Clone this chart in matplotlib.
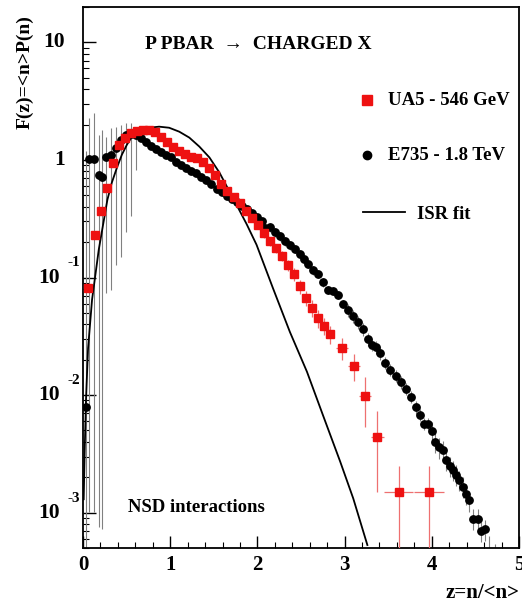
import matplotlib
matplotlib.use('Agg')
import matplotlib.pyplot as plt
from matplotlib.ticker import LogLocator, MultipleLocator, NullFormatter
import numpy as np

plt.rcParams['font.family'] = ['Liberation Serif', 'DejaVu Serif']
plt.rcParams['font.weight'] = 'bold'

# UA5 546 GeV (red squares)
ua5_z = [0.054, 0.135, 0.204, 0.273, 0.342, 0.412, 0.481, 0.550, 0.619, 0.689,
         0.758, 0.827, 0.896, 0.965, 1.034, 1.104, 1.173, 1.242, 1.311, 1.380,
         1.450, 1.519, 1.588, 1.657, 1.727, 1.796, 1.865, 1.934, 2.003, 2.073,
         2.142, 2.211, 2.280, 2.350, 2.419, 2.488, 2.557, 2.626, 2.696, 2.765,
         2.834, 2.972, 3.111, 3.237, 3.376, 3.619, 3.965]
ua5_F = [0.081, 0.228, 0.365, 0.572, 0.95, 1.33, 1.55, 1.71, 1.78, 1.81,
         1.81, 1.74, 1.58, 1.43, 1.30, 1.20, 1.13, 1.07, 1.03, 0.97,
         0.86, 0.74, 0.63, 0.54, 0.48, 0.43, 0.37, 0.324, 0.278, 0.238,
         0.203, 0.177, 0.152, 0.127, 0.107, 0.084, 0.067, 0.055, 0.045, 0.039,
         0.033, 0.025, 0.0177, 0.0098, 0.0044, 0.0015, 0.0015]
ua5_err = [0.004, 0.008, 0.012, 0.02, 0.03, 0.04, 0.04, 0.04, 0.04, 0.04,
           0.04, 0.04, 0.04, 0.04, 0.035, 0.03, 0.03, 0.03, 0.03, 0.03,
           0.03, 0.025, 0.02, 0.02, 0.02, 0.02, 0.02, 0.02, 0.02, 0.02,
           0.018, 0.016, 0.015, 0.014, 0.013, 0.011, 0.010, 0.009, 0.0075, 0.0065,
           0.006, 0.0053, 0.0045, 0.0044, 0.0029, 0.001, 0.001]
ua5_xerr = [0, 0, 0, 0, 0, 0, 0, 0, 0, 0,
            0, 0, 0, 0, 0, 0, 0, 0, 0, 0,
            0, 0, 0, 0, 0, 0, 0, 0, 0, 0,
            0, 0, 0, 0, 0, 0, 0, 0, 0, 0,
            0.04, 0.07, 0.07, 0.07, 0.07, 0.17, 0.17]

# E735 1.8 TeV (black dots)
e735_z = [0.031, 0.066, 0.123, 0.181, 0.216, 0.262, 0.319, 0.377, 0.435, 0.493,
          0.550, 0.608, 0.666, 0.723, 0.781, 0.839, 0.896, 0.954, 1.012, 1.069,
          1.127, 1.185, 1.242, 1.300, 1.358, 1.415, 1.473, 1.531, 1.589, 1.646,
          1.704, 1.762, 1.820, 1.877, 1.935, 1.993, 2.050, 2.085, 2.142, 2.200,
          2.257, 2.315, 2.373, 2.430, 2.488, 2.534, 2.580, 2.638, 2.695, 2.753,
          2.811, 2.868, 2.926, 2.984, 3.041, 3.099, 3.157, 3.214, 3.272, 3.318,
          3.364, 3.411, 3.468, 3.526, 3.584, 3.641, 3.699, 3.757, 3.814, 3.861,
          3.907, 3.953, 3.999, 4.033, 4.079, 4.126, 4.160, 4.206, 4.241, 4.276,
          4.310, 4.356, 4.391, 4.426, 4.472, 4.529, 4.564, 4.610, 4.660, 4.720]
e735_F = [0.0079, 1.01, 1.01, 0.75, 0.72, 1.05, 1.11, 1.27, 1.49, 1.64,
          1.67, 1.64, 1.55, 1.43, 1.32, 1.25, 1.18, 1.11, 1.05, 0.97,
          0.91, 0.86, 0.81, 0.77, 0.71, 0.67, 0.62, 0.57, 0.53, 0.49,
          0.461, 0.435, 0.403, 0.380, 0.351, 0.325, 0.300, 0.262, 0.267, 0.242,
          0.224, 0.203, 0.188, 0.174, 0.158, 0.143, 0.130, 0.115, 0.107, 0.091,
          0.078, 0.0765, 0.0708, 0.0594, 0.0528, 0.0470, 0.0418, 0.0364, 0.0300, 0.0267,
          0.0256, 0.0228, 0.0188, 0.0164, 0.0146, 0.0129, 0.0113, 0.0097, 0.0079, 0.0068,
          0.0057, 0.0057, 0.0049, 0.0040, 0.0036, 0.0034, 0.0028, 0.0025, 0.0023, 0.0021,
          0.0019, 0.00166, 0.00145, 0.00127, 0.00089, 0.00089, 0.00070, 0.00072, 0.00035, 0.00030]
# relative errors (down / up)
e735_lo = [0.999, 0.999, 0.999, 0.999, 0.999, 0.93, 0.93, 0.9, 0.9, 0.85,
           0.8, 0.5, 0.05, 0.05, 0.05, 0.05, 0.05, 0.05, 0.05, 0.05,
           0.05, 0.05, 0.05, 0.05, 0.05, 0.05, 0.05, 0.05, 0.05, 0.05,
           0.05, 0.05, 0.05, 0.05, 0.05, 0.05, 0.08, 0.08, 0.08, 0.08,
           0.08, 0.08, 0.08, 0.08, 0.08, 0.08, 0.08, 0.08, 0.08, 0.08,
           0.08, 0.08, 0.08, 0.08, 0.12, 0.12, 0.12, 0.12, 0.12, 0.12,
           0.12, 0.12, 0.12, 0.12, 0.12, 0.12, 0.12, 0.12, 0.12, 0.12,
           0.12, 0.12, 0.2, 0.2, 0.2, 0.2, 0.2, 0.2, 0.2, 0.2,
           0.2, 0.2, 0.2, 0.2, 0.2, 0.2, 0.2, 0.2, 0.5, 0.5]
e735_hi = [150.0, 1.27, 1.5, 1.19, 1.5, 0.48, 0.69, 0.51, 0.34, 0.26,
           0.24, 0.16, 0.05, 0.05, 0.05, 0.05, 0.05, 0.05, 0.05, 0.05,
           0.05, 0.05, 0.05, 0.05, 0.05, 0.05, 0.05, 0.05, 0.05, 0.05,
           0.05, 0.05, 0.05, 0.05, 0.05, 0.05, 0.08, 0.08, 0.08, 0.08,
           0.08, 0.08, 0.08, 0.08, 0.08, 0.08, 0.08, 0.08, 0.08, 0.08,
           0.08, 0.08, 0.08, 0.08, 0.12, 0.12, 0.12, 0.12, 0.12, 0.12,
           0.12, 0.12, 0.12, 0.12, 0.12, 0.12, 0.12, 0.12, 0.12, 0.12,
           0.12, 0.12, 0.2, 0.2, 0.2, 0.2, 0.2, 0.2, 0.2, 0.2,
           0.2, 0.2, 0.2, 0.2, 0.2, 0.2, 0.2, 0.2, 0.8, 0.8]

# ISR fit curve
isr_z = [0.008, 0.020, 0.035, 0.058, 0.104, 0.181, 0.280, 0.331, 0.389, 0.446,
         0.504, 0.562, 0.619, 0.700, 0.758, 0.873, 0.988, 1.104, 1.219, 1.334,
         1.450, 1.565, 1.657, 1.761, 1.876, 1.990, 2.176, 2.372, 2.568, 2.753,
         2.949, 3.099, 3.261]
isr_F = [0.0013, 0.0035, 0.0094, 0.025, 0.065, 0.173, 0.46, 0.643, 0.86, 1.11,
         1.35, 1.58, 1.74, 1.84, 1.88, 1.92, 1.88, 1.74, 1.55, 1.30,
         1.05, 0.78, 0.58, 0.415, 0.285, 0.19, 0.082, 0.0345, 0.0158, 0.0067,
         0.00272, 0.00132, 0.00053]

fig = plt.figure(figsize=(5.22, 6.06), dpi=100)
ax = fig.add_axes([0.159, 0.0957, 0.8353, 0.8927])

e735_F_arr = np.array(e735_F)
e735_yerr = [e735_F_arr * np.array(e735_lo), e735_F_arr * np.array(e735_hi)]
ax.errorbar(e735_z, e735_F, yerr=e735_yerr, fmt='none', ecolor='#808080',
            elinewidth=0.8, capsize=0, zorder=2)
ax.errorbar(ua5_z, ua5_F, yerr=ua5_err, xerr=ua5_xerr, fmt='none', ecolor='#ee7070',
            elinewidth=0.9, capsize=0, zorder=3)

ax.plot(isr_z, isr_F, '-', color='black', lw=1.3, zorder=4)
ax.plot(e735_z, e735_F, 'o', color='black', ms=5.3, mec='black', zorder=5)
ax.plot(ua5_z, ua5_F, 's', color='#ee1111', ms=5.4, mec='#ee1111', zorder=6)

ax.set_yscale('log')
ax.set_xlim(0, 5)
ax.set_ylim(5e-4, 20)

ax.set_xticks([0, 1, 2, 3, 4, 5])
ax.xaxis.set_minor_locator(MultipleLocator(0.2))
ax.set_yticks([1e-3, 1e-2, 1e-1, 1, 10])
ax.yaxis.set_minor_locator(LogLocator(base=10, subs=np.arange(2, 10)))
ax.yaxis.set_minor_formatter(NullFormatter())
ax.set_yticklabels([])
ax.tick_params(axis='both', which='major', direction='in', length=9, width=1.0,
               top=False, right=False)
ax.tick_params(axis='both', which='minor', direction='in', length=4.5, width=0.8,
               top=False, right=False)
ax.tick_params(axis='x', labelsize=15, pad=5)
for lab in ax.get_xticklabels():
    lab.set_fontweight('bold')
for sp in ax.spines.values():
    sp.set_linewidth(1.3)

# y tick labels with raised exponents
for val, base, expo in [(10, '10', ''), (1, '1', ''), (0.1, '10', '-1'),
                        (0.01, '10', '-2'), (0.001, '10', '-3')]:
    if expo:
        ax.annotate(base, xy=(0, val), xycoords=('axes fraction', 'data'),
                    xytext=(-16.5, 0), textcoords='offset points',
                    ha='right', va='center', fontsize=15.5, fontweight='bold')
        ax.annotate(expo, xy=(0, val), xycoords=('axes fraction', 'data'),
                    xytext=(-11, 10.5), textcoords='offset points',
                    ha='left', va='center', fontsize=11, fontweight='bold')
    else:
        ax.annotate(base, xy=(0, val), xycoords=('axes fraction', 'data'),
                    xytext=(-13, 0), textcoords='offset points',
                    ha='right', va='center', fontsize=15.5, fontweight='bold')

ax.text(0.142, 0.93, 'P PBAR  \u2192  CHARGED X', transform=ax.transAxes,
        ha='left', va='center', fontsize=14, fontweight='bold')

# hand made legend
ax.plot([0.651], [0.828], 's', color='#ee1111', ms=7, transform=ax.transAxes, clip_on=False)
ax.text(0.70, 0.828, 'UA5 - 546 GeV', transform=ax.transAxes,
        ha='left', va='center', fontsize=13.5, fontweight='bold')
ax.plot([0.651], [0.726], 'o', color='black', ms=6, transform=ax.transAxes, clip_on=False)
ax.text(0.70, 0.726, 'E735 - 1.8 TeV', transform=ax.transAxes,
        ha='left', va='center', fontsize=13.5, fontweight='bold')
ax.plot([0.642, 0.739], [0.621, 0.621], '-', color='black', lw=1.3, transform=ax.transAxes)
ax.text(0.766, 0.617, 'ISR fit', transform=ax.transAxes,
        ha='left', va='center', fontsize=13.5, fontweight='bold')

ax.text(0.103, 0.074, 'NSD interactions', transform=ax.transAxes,
        ha='left', va='center', fontsize=13.5, fontweight='bold')

fig.text(0.996, 0.021, 'z=n/<n>', ha='right', va='center', fontsize=15, fontweight='bold')
fig.text(0.048, 0.975, 'F(z)=<n>P(n)', rotation=90, ha='center', va='top',
         fontsize=14, fontweight='bold')

fig.savefig('out.png', dpi=100)
